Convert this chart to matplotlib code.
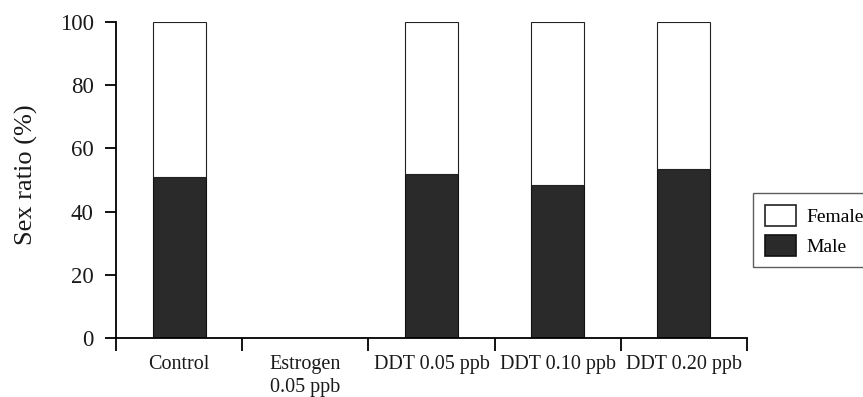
import matplotlib
matplotlib.use("Agg")
import matplotlib.pyplot as plt
import numpy as np

categories = ["Control", "Estrogen\n0.05 ppb", "DDT 0.05 ppb", "DDT 0.10 ppb", "DDT 0.20 ppb"]
male = [51, 0, 52, 48.5, 53.5]
female = [49, 0, 48, 51.5, 46.5]
yticks = [0, 20, 40, 60, 80, 100]

plt.rcParams['font.family'] = ['Liberation Serif', 'DejaVu Serif']

fig = plt.figure(figsize=(8.63, 3.97), dpi=100)
ax = fig.add_axes([116/863, 1-338/397, (747-116)/863, (338-22)/397])

x = np.arange(len(categories)) + 0.5
w = 0.42
ax.bar(x, male, width=w, color='#2a2a2a', edgecolor='#111111', linewidth=0.8, label='Male')
ax.bar(x, female, width=w, bottom=male, color='white', edgecolor='#222222', linewidth=0.8, label='Female')

ax.set_xlim(0, len(categories))
ax.set_ylim(0, 100)
ax.set_yticks(yticks)
ax.set_yticklabels([str(v) for v in yticks], fontsize=16.5, color='#1a1a1a')
ax.set_xticks(np.arange(len(categories) + 1))
ax.set_xticklabels([])
ax.set_xticks(x, minor=True)
ax.set_xticklabels(categories, minor=True, fontsize=14.5, linespacing=1.3, color='#1a1a1a')
ax.tick_params(axis='x', which='minor', length=0, pad=12)
ax.tick_params(axis='x', which='major', length=9, width=1.3, direction='out')
ax.tick_params(axis='y', length=8, width=1.3, direction='out', pad=8)
for s in ['top', 'right']:
    ax.spines[s].set_visible(False)
for s in ['left', 'bottom']:
    ax.spines[s].set_linewidth(1.3)
ax.set_ylabel("Sex ratio (%)", fontsize=19, color='#1a1a1a')
ax.yaxis.set_label_coords(-0.124, 0.517)

handles, labels = ax.get_legend_handles_labels()
leg = fig.legend(handles[::-1], labels[::-1], loc='upper left',
                 bbox_to_anchor=(753/863, 1-193/397), bbox_transform=fig.transFigure,
                 fontsize=14, frameon=True, fancybox=False, borderaxespad=0,
                 handlelength=1.6, handleheight=1.3, handletextpad=0.55,
                 labelspacing=0.45, borderpad=0.6)
leg.get_frame().set_edgecolor('#333333')
leg.get_frame().set_linewidth(1.0)
for h in leg.legend_handles:
    h.set_linewidth(1.2)

fig.savefig("out.png", dpi=100)
